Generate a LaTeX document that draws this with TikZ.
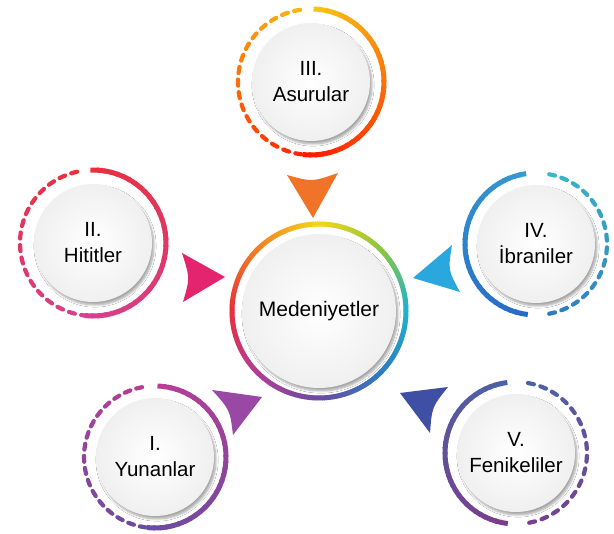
\documentclass[tikz,border=0pt]{standalone}
\usepackage{fontspec}
\setmainfont{Liberation Sans}
\usetikzlibrary{calc, positioning, shadows.blur}

\definecolor{cyellow}{HTML}{F5D51A}
\definecolor{cgreen}{HTML}{8DC63F}
\definecolor{ccyan}{HTML}{1FB3CC}
\definecolor{cblue}{HTML}{2E7CC0}
\definecolor{cviolet}{HTML}{6A4CA0}
\definecolor{cmagenta}{HTML}{B33C97}
\definecolor{cred}{HTML}{E8303E}
\definecolor{corange}{HTML}{F07F24}
\definecolor{cpink}{HTML}{D6408F}
\definecolor{cteal}{HTML}{3DB6C8}

\definecolor{triorange}{HTML}{F07328}
\definecolor{tripink}{HTML}{E5246F}
\definecolor{tricyan}{HTML}{2AA8DE}
\definecolor{tripurple}{HTML}{9A48A5}
\definecolor{triindigo}{HTML}{3F4FA3}

% ring arc, colour runs from #5 to #6: node, radius, from angle, to angle
\newcommand{\gradarc}[6]{%
  \foreach \i in {0,...,35}{
    \pgfmathsetmacro{\aa}{#3+(#4-#3)*\i/36}
    \pgfmathsetmacro{\ab}{#3+(#4-#3)*(\i+1.3)/36}
    \pgfmathtruncatemacro{\p}{100-100*\i/35}
    \draw[line width=5pt, #5!\p!#6] ($(#1)+(\aa:#2)$) arc[start angle=\aa, end angle=\ab, radius=#2];
  }}
% dashed half of a ring, #7 dashes
\newcommand{\dasharc}[7]{%
  \foreach \i in {1,...,#7}{
    \pgfmathsetmacro{\ac}{#3+(#4-#3)*(\i-0.5)/#7}
    \pgfmathtruncatemacro{\p}{100-100*(\i-1)/(#7-1)}
    \draw[line width=4.2pt, line cap=round, #5!\p!#6] ($(#1)+(\ac-2.4:#2)$) arc[start angle=\ac-2.4, end angle=\ac+2.4, radius=#2];
  }}

\tikzset{
  disk/.style={circle, minimum size=118pt, inner sep=0pt, align=center,
    font=\fontsize{20.5}{26}\selectfont, shade, inner color=white, outer color=gray!12,
    blur shadow={shadow xshift=2pt, shadow yshift=-3pt, shadow blur steps=8, shadow opacity=35}},
  bigdisk/.style={disk, minimum size=154pt, font=\fontsize{21}{26}\selectfont}
}

\begin{document}
\begin{tikzpicture}[x=1pt, y=1pt]
  \fill[white] (0,0) rectangle (614,534);
  \useasboundingbox (0,0) rectangle (614,534);

  \node (med) at (319,223) [bigdisk] {Medeniyetler};
  \node (asur) at (311,452) [disk] {III.\\Asurular};
  \node (hitit) at (93,291) [disk] {II.\\Hititler};
  \node (ibran) at (536,290) [disk] {IV.\\İbraniler};
  \node (yunan) at (155,77) [disk] {I.\\Yunanlar};
  \node (fenik) at (516,81) [disk] {V.\\Fenikeliler};

  % centre ring
  \gradarc{med}{87pt}{90}{45}{cyellow}{cgreen}
  \gradarc{med}{87pt}{45}{0}{cgreen}{ccyan}
  \gradarc{med}{87pt}{0}{-45}{ccyan}{cblue}
  \gradarc{med}{87pt}{-45}{-90}{cblue}{cviolet}
  \gradarc{med}{87pt}{-90}{-135}{cviolet}{cmagenta}
  \gradarc{med}{87pt}{-135}{-180}{cmagenta}{cred}
  \gradarc{med}{87pt}{-180}{-225}{cred}{corange}
  \gradarc{med}{87pt}{-225}{-270}{corange}{cyellow}

  % outer rings
  \gradarc{asur}{73pt}{88}{-95}{cyellow}{red!80!orange}
  \dasharc{asur}{73pt}{96}{265}{cyellow!90!orange}{red!70!orange}{17}
  \gradarc{hitit}{73pt}{92}{-95}{cred}{cpink}
  \dasharc{hitit}{73pt}{100}{268}{cred}{cpink}{17}
  \gradarc{ibran}{71pt}{98}{262}{cteal}{cblue!85!blue}
  \dasharc{ibran}{71pt}{82}{-82}{cteal}{cblue}{16}
  \gradarc{yunan}{71pt}{88}{-95}{cmagenta!85!cpink}{cviolet}
  \dasharc{yunan}{71pt}{98}{265}{cmagenta!85!cpink}{cviolet}{17}
  \gradarc{fenik}{71pt}{97}{262}{cblue}{cviolet!80!purple}
  \dasharc{fenik}{71pt}{83}{-82}{cblue}{cviolet!80!purple}{16}

  % pointers
  \fill[triorange] (287,359) -- (313,316) -- (338,361) .. controls (312,352) .. (287,359) -- cycle;
  \fill[tripink] (182,281) -- (225,257) -- (183,232) .. controls (190,256) .. (182,281) -- cycle;
  \fill[tricyan] (452,289) -- (413,256) -- (460,242) .. controls (448,264) .. (452,289) -- cycle;
  \fill[tripurple] (212,144) -- (262,137) -- (233,99) .. controls (230,124) .. (212,144) -- cycle;
  \fill[triindigo] (400,141) -- (448,147) .. controls (432,127) .. (430,101) -- cycle;
\end{tikzpicture}
\end{document}
